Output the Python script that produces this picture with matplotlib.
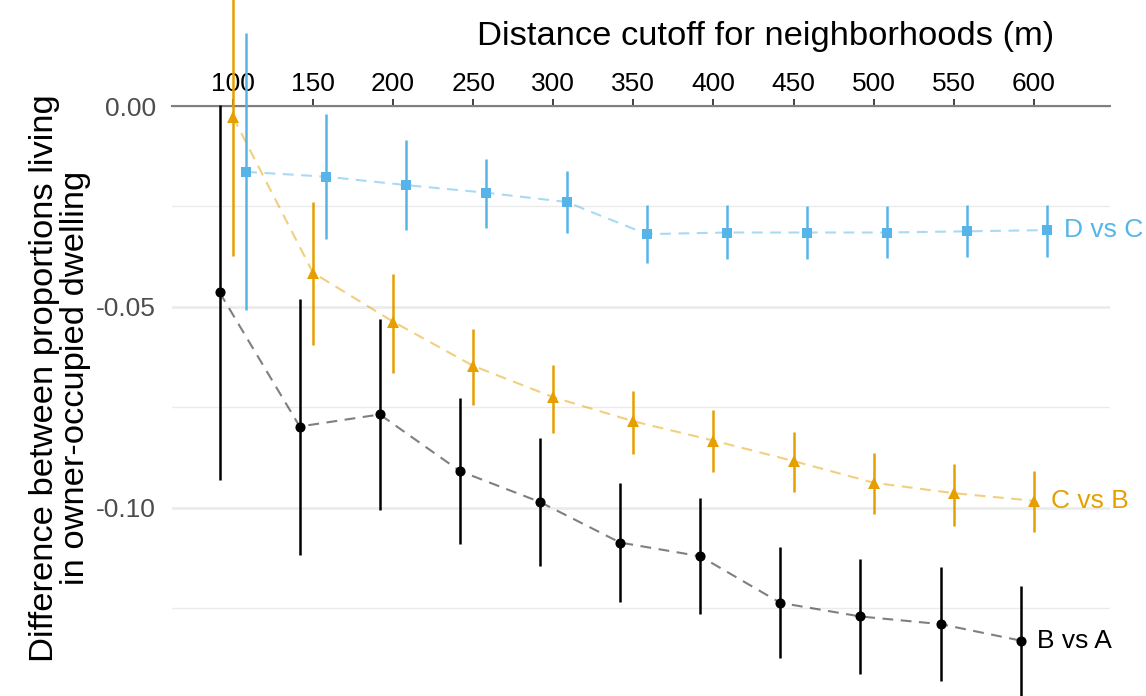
import matplotlib
matplotlib.use("Agg")
import matplotlib.pyplot as plt
import numpy as np

plt.rcParams['font.family'] = ['Liberation Sans', 'DejaVu Sans']
plt.rcParams['axes.unicode_minus'] = False

distance = [100, 150, 200, 250, 300, 350, 400, 450, 500, 550, 600]
tick_labels = ["100", "150", "200", "250", "300", "350", "400", "450", "500", "550", "600"]

ba_est = [-0.0464, -0.0798, -0.0768, -0.0909, -0.0986, -0.1087, -0.1121, -0.1237, -0.1271, -0.1290, -0.1331]
ba_lo = [-0.0931, -0.1117, -0.1006, -0.1091, -0.1145, -0.1234, -0.1265, -0.1375, -0.1413, -0.1432, -0.1470]
ba_hi = [0.0002, -0.0481, -0.0530, -0.0728, -0.0827, -0.0938, -0.0975, -0.1099, -0.1128, -0.1147, -0.1194]

cb_est = [-0.0027, -0.0415, -0.0537, -0.0647, -0.0725, -0.0785, -0.0833, -0.0884, -0.0938, -0.0964, -0.0983]
cb_lo = [-0.0374, -0.0595, -0.0664, -0.0744, -0.0813, -0.0867, -0.0912, -0.0961, -0.1017, -0.1045, -0.1061]
cb_hi = [0.0320, -0.0238, -0.0418, -0.0554, -0.0645, -0.0709, -0.0757, -0.0811, -0.0864, -0.0891, -0.0908]

dc_est = [-0.0164, -0.0176, -0.0197, -0.0216, -0.0239, -0.0319, -0.0315, -0.0315, -0.0315, -0.0312, -0.0309]
dc_lo = [-0.0508, -0.0332, -0.0309, -0.0303, -0.0317, -0.0392, -0.0382, -0.0382, -0.0379, -0.0377, -0.0375]
dc_hi = [0.0183, -0.0019, -0.0085, -0.0132, -0.0163, -0.0246, -0.0247, -0.0249, -0.0250, -0.0247, -0.0246]

series_names = ["B vs A", "C vs B", "D vs C"]
series_colors = ["#000000", "#E69F00", "#56B4E9"]
series_markers = ["o", "^", "s"]
series_ms = [7.3, 9.2, 7.6]
dodge = [-8.3, 0.0, 8.3]

fig = plt.figure(figsize=(11.46, 6.96), dpi=100)
ax = fig.add_axes([172/1146, 0, (1110-172)/1146, 1-106/696])
ax.set_xlim(62, 647.5)
ax.set_ylim(-0.1469, 0)

# grid
ax.set_yticks([0.0, -0.05, -0.10])
ax.set_yticklabels(["0.00", "-0.05", "-0.10"])
ax.set_yticks([-0.025, -0.075, -0.125], minor=True)
ax.grid(axis='y', which='major', color='#EBEBEB', lw=1.9, zorder=0)
ax.grid(axis='y', which='minor', color='#EBEBEB', lw=0.95, zorder=0)
ax.set_axisbelow(True)

for s in ['left', 'right', 'bottom']:
    ax.spines[s].set_visible(False)
ax.spines['top'].set_color('#7F7F7F')
ax.spines['top'].set_linewidth(1.5)
ax.spines['top'].set_zorder(1)

ax.xaxis.tick_top()
ax.set_xticks(distance)
ax.set_xticklabels(tick_labels)
ax.tick_params(axis='x', which='major', top=True, bottom=False, length=5, width=1.3,
               color='#333333', labelsize=19, labelcolor='#000000', pad=2.0)
ax.tick_params(axis='y', which='both', left=False, length=0, labelsize=19,
               labelcolor='#4D4D4D', pad=11.5)

groups = [(ba_est, ba_lo, ba_hi), (cb_est, cb_lo, cb_hi), (dc_est, dc_lo, dc_hi)]
for i, (est, lo, hi) in enumerate(groups):
    x = np.array(distance, dtype=float) + dodge[i]
    c = series_colors[i]
    ax.plot(x, est, color=c, alpha=0.5, lw=1.5, dashes=(5.2, 3.6), zorder=2, clip_on=False)
    ax.vlines(x, lo, hi, color=c, lw=1.8, zorder=3, clip_on=False)
    ax.plot(x, est, linestyle='none', marker=series_markers[i], ms=series_ms[i],
            color=c, mec=c, mew=0, zorder=4, clip_on=False)
    ax.text(x[-1] + 10.5, est[-1], series_names[i], color=c, fontsize=19,
            ha='left', va='center', clip_on=False)

fig.text(766/1146, 1 - 45/696, "Distance cutoff for neighborhoods (m)", fontsize=24.8,
         ha='center', va='baseline', color='#000000')
fig.text(60/1146, 1 - 378/696, "Difference between proportions living\nin owner-occupied dwelling",
         fontsize=24.8, rotation=90, ha='center', va='center', linespacing=1.0, multialignment='center')

fig.savefig("out.png", dpi=100)
